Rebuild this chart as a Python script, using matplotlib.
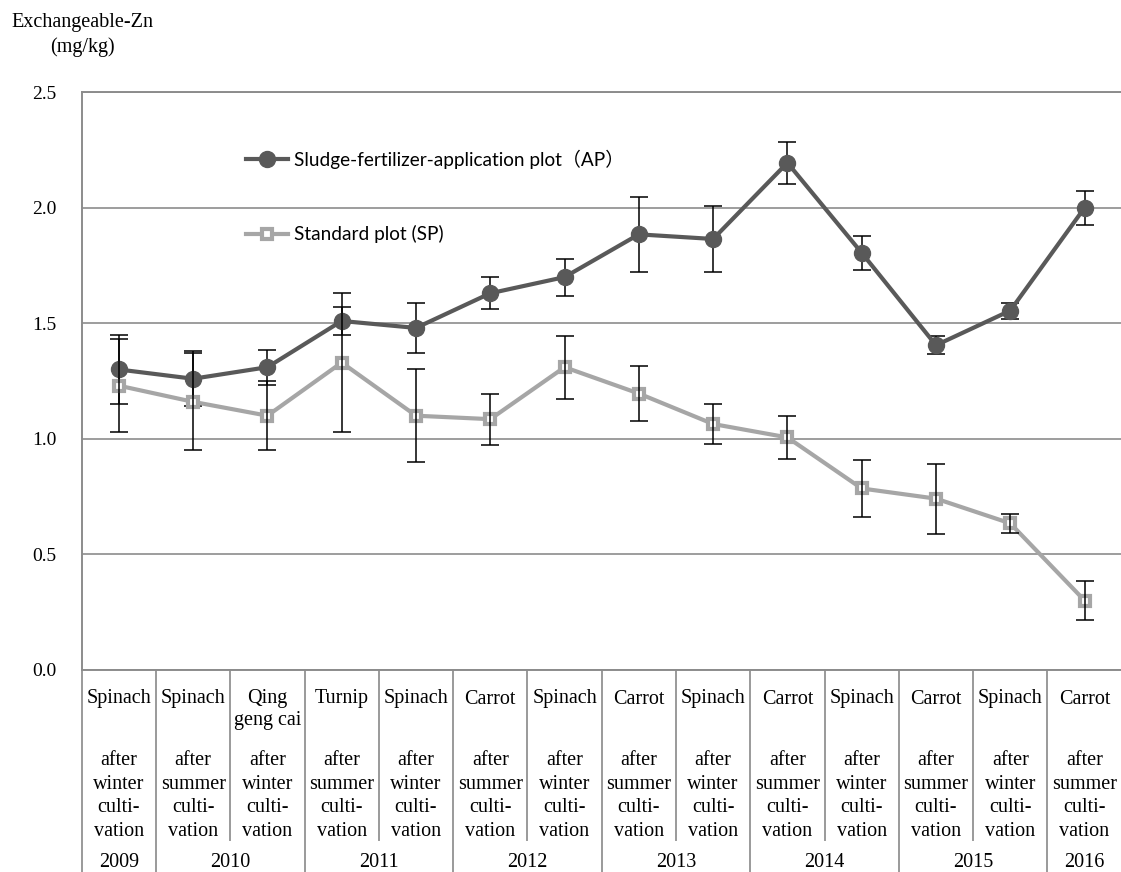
import matplotlib
matplotlib.use('Agg')
import matplotlib.pyplot as plt
import matplotlib.transforms as mtransforms
from matplotlib.font_manager import FontProperties

# crop / timing / year labels under each sampling
crops = ['Spinach', 'Spinach', 'Qing\ngeng cai', 'Turnip', 'Spinach', 'Carrot', 'Spinach',
         'Carrot', 'Spinach', 'Carrot', 'Spinach', 'Carrot', 'Spinach', 'Carrot']
seasons = ['winter', 'summer', 'winter', 'summer', 'winter', 'summer', 'winter',
           'summer', 'winter', 'summer', 'winter', 'summer', 'winter', 'summer']
years = ['2009', '2010', '2011', '2012', '2013', '2014', '2015', '2016']
year_first = [0, 1, 3, 5, 7, 9, 11, 13]
year_last = [0, 2, 4, 6, 8, 10, 12, 13]

# exchangeable Zn (mg/kg), mean and error
ap_mean = [1.30, 1.26, 1.31, 1.51, 1.48, 1.63, 1.70, 1.885, 1.865, 2.195, 1.805, 1.405, 1.555, 2.00]
ap_err = [0.15, 0.12, 0.075, 0.06, 0.11, 0.07, 0.08, 0.163, 0.143, 0.09, 0.074, 0.04, 0.035, 0.073]
sp_mean = [1.23, 1.16, 1.10, 1.33, 1.10, 1.085, 1.31, 1.196, 1.064, 1.006, 0.785, 0.741, 0.634, 0.30]
sp_err = [0.20, 0.21, 0.15, 0.30, 0.20, 0.11, 0.137, 0.119, 0.087, 0.094, 0.124, 0.151, 0.04, 0.084]

W, H = 1121, 872
serif = 'Liberation Serif'
fs = 14
fs_tab = 14.5
grid_c = '#8c8c8c'
line_c = '#9a9a9a'


def fy(p):
    return 1 - p / H


fig = plt.figure(figsize=(W / 100, H / 100), dpi=100)
ax = fig.add_axes([81.7 / W, fy(669.8), 1040 / W, (669.8 - 92.3) / H])

x = list(range(len(crops)))

# data series
ax.errorbar(x, ap_mean, yerr=ap_err, fmt='none', ecolor='black', elinewidth=1.1,
            capsize=6.5, capthick=1.1, zorder=2)
ap_line, = ax.plot(x, ap_mean, '-o', color='#595959', lw=3, ms=11.5, zorder=3,
                   label='Sludge-fertilizer-application plot（AP）')
sp_line, = ax.plot(x, sp_mean, '-s', color='#a6a6a6', lw=3, ms=7.5, mew=3,
                   mfc='white', mec='#a6a6a6', zorder=4, label='Standard plot (SP)')
ax.errorbar(x, sp_mean, yerr=sp_err, fmt='none', ecolor='black', elinewidth=1.1,
            capsize=6.5, capthick=1.1, zorder=5)

# axes decorations
ax.set_xlim(-0.5, 13.5)
ax.set_ylim(0, 2.5)
ax.set_yticks([0, 0.5, 1.0, 1.5, 2.0, 2.5])
ax.set_yticklabels(['0.0', '0.5', '1.0', '1.5', '2.0', '2.5'], fontfamily=serif, fontsize=fs)
ax.tick_params(axis='y', length=0, pad=18)
ax.set_xticks([])
ax.grid(axis='y', color=grid_c, lw=1.2)
ax.set_axisbelow(True)
for s in ['left', 'bottom', 'top']:
    ax.spines[s].set_color(grid_c)
    ax.spines[s].set_linewidth(1.4)
ax.spines['right'].set_visible(False)

# legend
leg_font = FontProperties(family=['Lato', 'Noto Sans CJK SC'], size=13.7)
ax.legend(handles=[ap_line, sp_line], loc='center left', prop=leg_font,
          bbox_to_anchor=(236 / W, fy(196.5)), bbox_transform=fig.transFigure,
          frameon=False, borderpad=0, handlelength=2.25, handletextpad=0.3,
          labelspacing=2.95)

# y label
fig.text(82 / W, fy(22), 'Exchangeable-Zn', ha='center', va='center', fontfamily=serif, fontsize=14.5)
fig.text(82 / W, fy(47), '(mg/kg)', ha='center', va='center', fontfamily=serif, fontsize=14.5)

# category table under the axis
tr = mtransforms.blended_transform_factory(ax.transData, fig.transFigure)
for i in range(len(crops)):
    for k, part in enumerate(crops[i].split('\n')):
        ax.text(i, fy(703.5 + 21 * k), part, transform=tr, ha='center', va='baseline',
                fontfamily=serif, fontsize=fs_tab, clip_on=False)
    for k, part in enumerate(['after', seasons[i], 'culti-', 'vation']):
        ax.text(i, fy(765 + 23.6 * k), part, transform=tr, ha='center', va='baseline',
                fontfamily=serif, fontsize=fs_tab, clip_on=False)

for j, yr in enumerate(years):
    xc = (year_first[j] + year_last[j]) / 2
    ax.text(xc, fy(867), yr, transform=tr, ha='center', va='baseline',
            fontfamily=serif, fontsize=fs_tab, clip_on=False)

# separators: full height at year boundaries, shorter inside a year
for b in range(len(crops) + 1):
    xb = b - 0.5
    y_end = 872 if (b == 0 or b == len(crops) or (b - 1) in year_last) else 840
    ax.plot([xb, xb], [fy(669.8), fy(y_end)], transform=tr, color=line_c, lw=1.4,
            clip_on=False, zorder=1)

fig.savefig('out.png', dpi=100)
